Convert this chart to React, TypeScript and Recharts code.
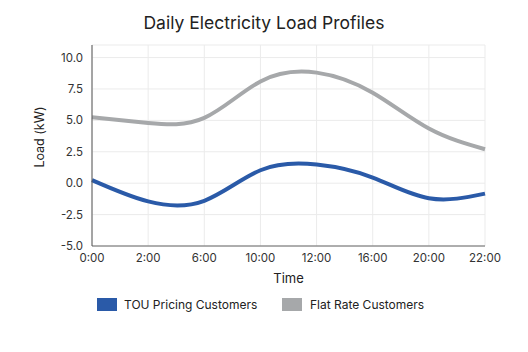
import React from 'react';
import { LineChart, Line, XAxis, YAxis, CartesianGrid } from 'recharts';

const hours = ['0:00', '2:00', '6:00', '10:00', '12:00', '16:00', '20:00', '22:00'];
const touLoad = [0.25, -1.45, -1.4, 1.03, 1.48, 0.45, -1.2, -0.83];
const flatLoad = [5.25, 4.8, 5.2, 8.1, 8.8, 7.2, 4.35, 2.7];
const yTicks = [-5, -2.5, 0, 2.5, 5, 7.5, 10];

const data = hours.map((h, i) => ({ time: h, tou: touLoad[i], flat: flatLoad[i] }));

const font = 'Inter, "Noto Sans", sans-serif';

export default function App() {
  return (
    <div style={{ position: 'fixed', left: 0, top: 0, width: 528, height: 352, background: '#fff', fontFamily: font }}>
      <div style={{ position: 'absolute', top: 12, width: 528, textAlign: 'center', fontSize: 17.5, color: '#222' }}>
        Daily Electricity Load Profiles
      </div>
      <LineChart width={528} height={352} data={data} margin={{ top: 45, right: 43, left: 0, bottom: 76 }}>
        <CartesianGrid stroke="#ebebeb" />
        <XAxis
          dataKey="time"
          axisLine={{ stroke: '#666' }}
          tickLine={false}
          tick={{ fill: '#333', fontSize: 11.5, fontFamily: font }}
          tickMargin={2}
          height={30}
          interval={0}
        />
        <YAxis
          domain={[-5, 11]}
          ticks={yTicks}
          width={92}
          axisLine={{ stroke: '#555' }}
          tickLine={false}
          tickFormatter={(v: number) => v.toFixed(1)}
          tick={{ fill: '#333', fontSize: 11.5, fontFamily: font }}
          tickMargin={3}
        />
        <Line type="natural" dataKey="flat" stroke="#a6a8aa" strokeWidth={4} dot={false} isAnimationActive={false} />
        <Line type="natural" dataKey="tou" stroke="#2a5aa8" strokeWidth={4} dot={false} isAnimationActive={false} />
      </LineChart>
      <div style={{ position: 'absolute', left: 39, top: 137, transform: 'translate(-50%, -50%) rotate(-90deg)', fontSize: 12.5, color: '#222', whiteSpace: 'nowrap' }}>
        Load (kW)
      </div>
      <div style={{ position: 'absolute', top: 270, left: 92, width: 393, textAlign: 'center', fontSize: 13, color: '#222' }}>
        Time
      </div>
      <div style={{ position: 'absolute', top: 297, left: 97, display: 'flex', alignItems: 'center', fontSize: 12, color: '#222' }}>
        <span style={{ width: 20, height: 13, background: '#2a5aa8', display: 'inline-block', marginRight: 7 }} />
        <span style={{ width: 158 }}>TOU Pricing Customers</span>
        <span style={{ width: 20, height: 13, background: '#a6a8aa', display: 'inline-block', marginRight: 8 }} />
        <span>Flat Rate Customers</span>
      </div>
    </div>
  );
}
